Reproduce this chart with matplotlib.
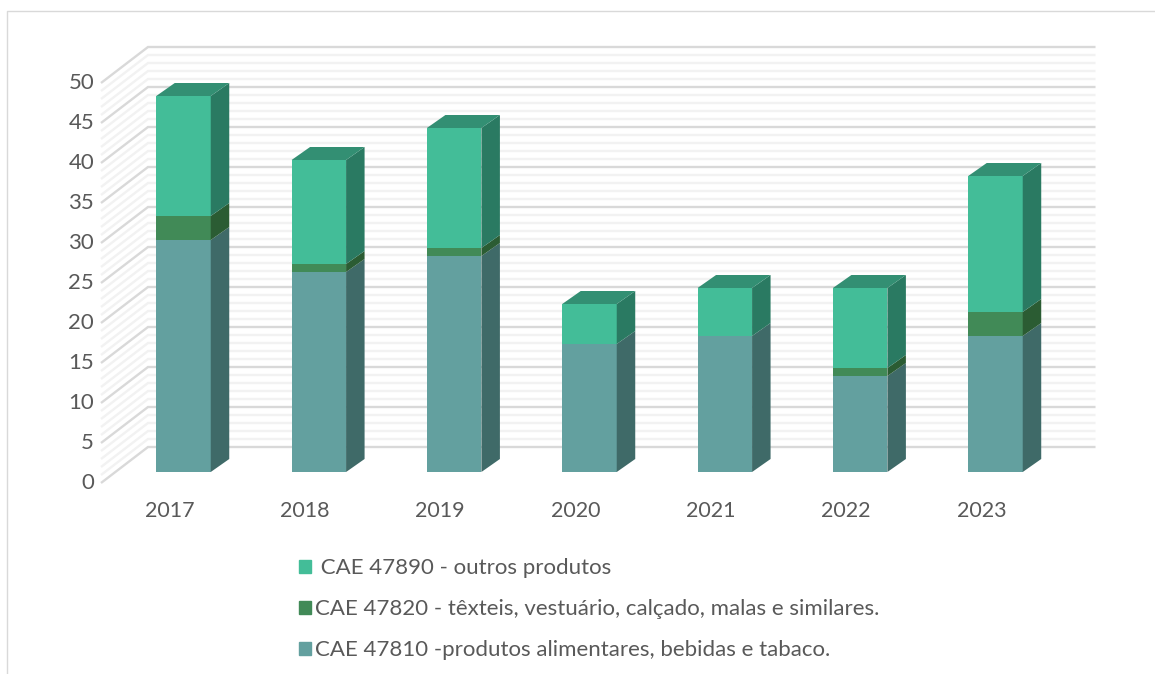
import matplotlib
matplotlib.use("Agg")
import matplotlib.pyplot as plt
from matplotlib.patches import Patch
from matplotlib.transforms import ScaledTranslation
from matplotlib.lines import Line2D

years = ["2017", "2018", "2019", "2020", "2021", "2022", "2023"]
cae_47810 = [29, 25, 27, 16, 17, 12, 17]
cae_47820 = [3, 1, 1, 0, 0, 1, 3]
cae_47890 = [15, 13, 15, 5, 6, 10, 17]
series_labels = [" CAE 47890 - outros produtos",
                 "CAE 47820 - têxteis, vestuário, calçado, malas e similares.",
                 "CAE 47810 -produtos alimentares, bebidas e tabaco."]

W, H = 1155, 674
plt.rcParams["font.family"] = ["Lato", "DejaVu Sans"]
fig = plt.figure(figsize=(W / 100, H / 100), dpi=100)
L, R, B, T = 101, 1095.5, 472, 72
ax = fig.add_axes([L / W, 1 - B / H, (R - L) / W, (B - T) / H])
PX_CAT = 135.33
ax.set_xlim((L - 183.5) / PX_CAT, (R - 183.5) / PX_CAT)
ax.set_ylim(0, 50)
for s in ax.spines.values():
    s.set_visible(False)
PX_V = 8.0
def xu(px): return px / PX_CAT
def yu(px): return px / PX_V

# walls
x_side_front = ax.get_xlim()[0]
x_back = x_side_front + xu(47)
x_end = ax.get_xlim()[1]
y_side = yu(-11)
y_back = yu(25)
for v in range(0, 51):
    major = v % 5 == 0
    c = "#D9D9D9" if major else "#F2F2F2"
    ax.plot([x_side_front, x_back, x_end], [v + y_side, v + y_back, v + y_back],
            color=c, lw=1.7, clip_on=False, zorder=2 if major else 1,
            solid_joinstyle="miter", solid_capstyle="butt")

# bars
palette = [("#63A09F", "#3F6A68", "#4C7F7E"),
           ("#418A57", "#2B5C33", "#35704A"),
           ("#43BD98", "#2A7A62", "#338F73")]
bw = xu(54.5)
ddx, ddy = xu(18.5), yu(13)
for i in range(len(years)):
    base = 0
    x0, x1 = i - bw / 2, i + bw / 2
    vals = [cae_47810[i], cae_47820[i], cae_47890[i]]
    for val, (front, side, top) in zip(vals, palette):
        if val == 0:
            continue
        t = base + val
        ax.fill([x0, x1, x1, x0], [base, base, t, t], color=front, lw=0, zorder=5, clip_on=False)
        ax.fill([x1, x1 + ddx, x1 + ddx, x1], [base, base + ddy, t + ddy, t],
                color=side, lw=0, zorder=5, clip_on=False)
        base = t
    ax.fill([x0, x1, x1 + ddx, x0 + ddx], [base, base, base + ddy, base + ddy],
            color=palette[[j for j, v in enumerate(vals) if v][-1]][2], lw=0, zorder=5, clip_on=False)

# ticks
ax.set_yticks(range(0, 51, 5))
ax.set_xticks(range(len(years)))
ax.set_xticklabels(years)
ax.tick_params(length=0, labelsize=15.5, labelcolor="#595959")
ax.tick_params(axis="y", labelsize=16)
off_y = ScaledTranslation(-2 / 100, -9 / 100, fig.dpi_scale_trans)
for lab in ax.get_yticklabels():
    lab.set_transform(lab.get_transform() + off_y)
off_x = ScaledTranslation(-14 / 100, -24 / 100, fig.dpi_scale_trans)
for lab in ax.get_xticklabels():
    lab.set_transform(lab.get_transform() + off_x)

# legend
handles = [Patch(color=palette[2][0]), Patch(color=palette[1][0]), Patch(color=palette[0][0])]
leg = fig.legend(handles, series_labels, loc="upper left",
                 bbox_to_anchor=(299 / W, 1 - 558.5 / H), frameon=False, fontsize=16,
                 labelcolor="#595959", handlelength=0.54, handleheight=0.54,
                 handletextpad=0.2, labelspacing=0.94, borderpad=0, borderaxespad=0)

# outer frame
fig.add_artist(Line2D([7 / W, 7 / W, 1], [0, 1 - 10.5 / H, 1 - 10.5 / H],
                      color="#D9D9D9", lw=1, transform=fig.transFigure))
fig.savefig("out.png", dpi=100)
